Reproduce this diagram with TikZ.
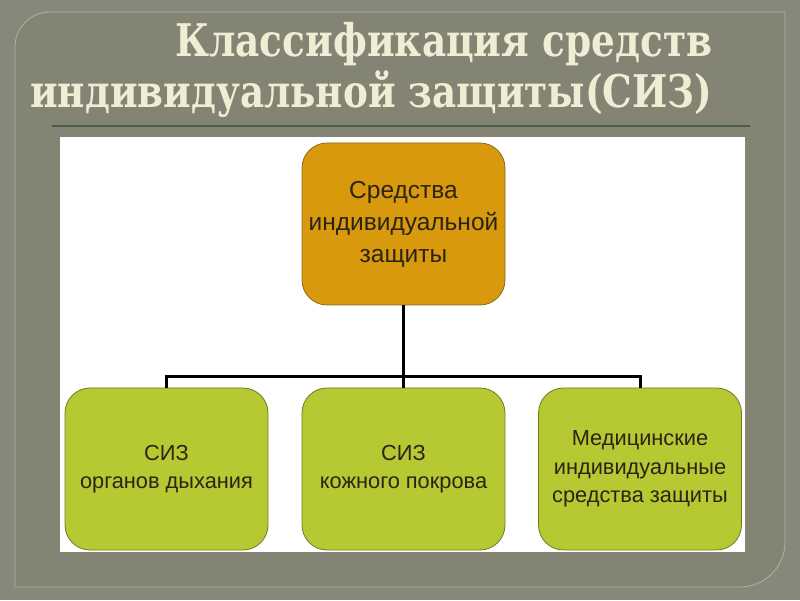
\documentclass[tikz,border=0pt]{standalone}
\usepackage{fontspec}
\setmainfont{Liberation Sans}
\newfontfamily\titlefont{DejaVu Serif}
\definecolor{bgout}{HTML}{87887A}
\definecolor{bgin}{HTML}{838474}
\definecolor{framecol}{HTML}{B2B3A3}
\definecolor{titlecol}{HTML}{EFEDD4}
\definecolor{sepcol}{HTML}{4C5E3C}
\definecolor{orangefill}{HTML}{D9990C}
\definecolor{orangeedge}{HTML}{8C6A1E}
\definecolor{greenfill}{HTML}{B6C932}
\definecolor{greenedge}{HTML}{6E7D22}
\definecolor{boxtext}{HTML}{2B2414}
\tikzset{
  topbox/.style={draw=orangeedge, fill=orangefill, line width=0.8pt, rounded corners=25pt,
    minimum width=203pt, minimum height=162pt, inner sep=0pt, align=center,
    text=boxtext, font=\fontsize{24.5}{32}\selectfont},
  subbox/.style={draw=greenedge, fill=greenfill, line width=0.8pt, rounded corners=25pt,
    minimum width=203pt, minimum height=162pt, inner sep=0pt, align=center,
    text=boxtext, font=\fontsize{21.8}{28.5}\selectfont},
  conn/.style={line width=3pt, draw=black},
  titletext/.style={text=titlecol, inner sep=0pt, anchor=base west},
}
\begin{document}
\begin{tikzpicture}[x=1pt,y=1pt]
\fill[bgout] (0,0) rectangle (800,600);
\useasboundingbox (0,0) rectangle (800,600);
% slide frame
\draw[fill=bgin, draw=framecol, line width=0.8pt]
  (15,13) -- (15,553) arc (180:90:35) -- (785,588) -- (785,58) arc (0:-90:45) -- cycle;
% title
\node[titletext] (t1) at (175,543) {\resizebox{537pt}{\height}{\titlefont\bfseries\fontsize{45}{45}\selectfont Классификация средств}};
\node[titletext] (t2) at (30,492) {\resizebox{682pt}{\height}{\titlefont\bfseries\fontsize{45}{45}\selectfont индивидуальной защиты(СИЗ)}};
\draw[sepcol, line width=1.5pt] (52,474) -- (750,474);
% white panel
\fill[white] (60,48) rectangle (745,463);
% boxes
\node[topbox] (top) at (403.5,376) {Средства\\индивидуальной\\защиты};
\node[subbox] (b1) at (166.5,131) {СИЗ\\органов дыхания};
\node[subbox] (b2) at (403.5,131) {СИЗ\\кожного покрова};
\node[subbox] (b3) at (640,131) {Медицинские\\индивидуальные\\средства защиты};
% connectors
\coordinate (bus) at (403.5,223);
\draw[conn] (top.south) -- (bus);
\draw[conn] (b1.north) |- (bus);
\draw[conn] (b3.north) |- (bus);
\draw[conn] (b2.north) -- (bus);
\end{tikzpicture}
\end{document}
